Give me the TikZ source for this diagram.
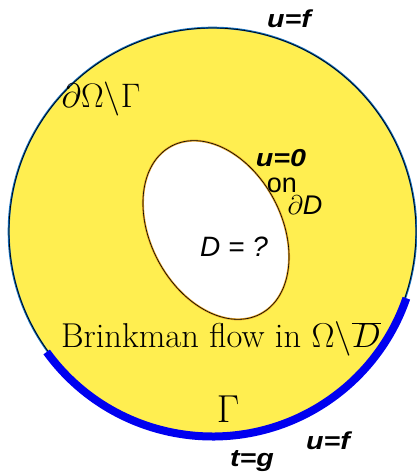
\RequirePackage{fix-cm}
\documentclass[tikz,border=0pt]{standalone}
\usepackage{fontspec}
\newfontfamily\arial{Liberation Sans}
\definecolor{fillyellow}{RGB}{255,238,80}
\definecolor{rimblue}{RGB}{20,110,190}
\definecolor{gammablue}{RGB}{0,0,240}
\definecolor{rimorange}{RGB}{225,160,40}
\tikzset{
  boldlab/.style={anchor=base, inner sep=0pt, font=\arial\bfseries\itshape\fontsize{24.5}{24.5}\selectfont},
  plainlab/.style={anchor=base, inner sep=0pt},
}
\newcommand{\widen}[1]{\scalebox{1.17}[1]{#1}}
\begin{document}
\begin{tikzpicture}[x=1pt,y=1pt]
\useasboundingbox (0,0) rectangle (417,474);
\coordinate (c) at (212.5,242.5);
\coordinate (e) at (216,244);
% outer disc
\fill[fillyellow] (c) circle[radius=203.5pt];
\draw[rimblue, line width=2pt] (c) circle[radius=203.8pt];
\draw[black, line width=0.7pt] (c) circle[radius=203.5pt];
% hole
\draw[rimorange, line width=2pt, fill=white, rotate around={-62:(e)}] (e) ellipse[x radius=95pt, y radius=65.5pt];
\draw[black, line width=0.6pt, rotate around={-62:(e)}] (e) ellipse[x radius=95pt, y radius=65.5pt];
% Gamma arc
\draw[gammablue, line width=8pt] (c) ++(216:205pt) arc[start angle=216, end angle=341, radius=205pt];
% labels
\node[boldlab] (uftop) at (289,446) {\widen{u=f}};
\node[plainlab, font=\fontsize{34}{34}\selectfont] (dog) at (101,366) {$\partial\Omega\backslash\Gamma$};
\node[boldlab] (uzero) at (281,307) {\widen{u=0}};
\node[plainlab, font=\arial\fontsize{27}{27}\selectfont] (on) at (282,281) {on};
\node[plainlab, font=\fontsize{27}{27}\selectfont] (dD) at (305,259) {$\partial$\arial\itshape D};
\node[plainlab, font=\arial\itshape\fontsize{28}{28}\selectfont] (Dq) at (234,217) {D = ?};
\node[plainlab, font=\fontsize{34.5}{34.5}\selectfont] (brink) at (221,126) {Brinkman flow in $\Omega\backslash\overline{D}$};
\node[plainlab, font=\fontsize{39}{39}\selectfont] (gam) at (228,51) {$\Gamma$};
\node[boldlab] (ufbot) at (328,24) {\widen{u=f}};
\node[boldlab] (tg) at (252,8) {\widen{t=g}};
\end{tikzpicture}
\end{document}
